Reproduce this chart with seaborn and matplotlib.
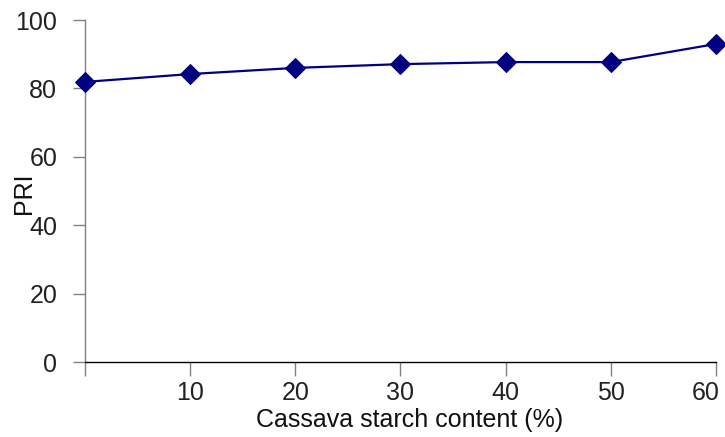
import matplotlib
matplotlib.use("Agg")
import matplotlib.pyplot as plt
import matplotlib.transforms as mtransforms
import seaborn as sns
import pandas as pd

# Cassava starch content (%) and the measured PRI at each level
starch_content = [0, 10, 20, 30, 40, 50, 60]
pri_values = [81.9, 84.2, 86.0, 87.1, 87.7, 87.7, 93.0]
x_tick_values = [0, 10, 20, 30, 40, 50, 60]
x_tick_labels = ["", "10", "20", "30", "40", "50", "60"]
y_tick_values = [0, 20, 40, 60, 80, 100]

sns.set_style("white")
plt.rcParams["font.family"] = ["Liberation Sans", "DejaVu Sans"]

df = pd.DataFrame({"starch": starch_content, "pri": pri_values})

fig = plt.figure(figsize=(7.25, 4.37), dpi=100)
ax = fig.add_axes([0.1172, 0.1716, 0.8704, 0.7826])

sns.lineplot(data=df, x="starch", y="pri", ax=ax, color="#000080",
             linewidth=1.6, marker="D", markersize=10,
             markeredgecolor="#000080", markerfacecolor="#000080",
             clip_on=False, zorder=3)

ax.set_xlim(0, 60)
ax.set_ylim(0, 100)
ax.set_xticks(x_tick_values)
ax.set_xticklabels(x_tick_labels)
ax.set_yticks(y_tick_values)

for side in ("top", "right"):
    ax.spines[side].set_visible(False)
ax.spines["left"].set_color("#808080")
ax.spines["left"].set_linewidth(1.0)
ax.spines["bottom"].set_color("#000000")
ax.spines["bottom"].set_linewidth(1.0)

ax.tick_params(axis="y", direction="out", length=9, width=1.0,
               color="#808080", pad=11, labelsize=18, labelcolor="#222222", left=True)
ax.tick_params(axis="x", direction="out", length=10, width=1.0,
               color="#808080", pad=4, labelsize=18, labelcolor="#222222", bottom=True)

# pull the last x label inward so it stays inside the figure
last = ax.get_xticklabels()[-1]
last.set_transform(last.get_transform()
                   + mtransforms.ScaledTranslation(-0.10, 0, fig.dpi_scale_trans))

ax.set_xlabel("Cassava starch content (%)", fontsize=18, color="#111111")
ax.xaxis.set_label_coords(0.514, -0.1345)
ax.set_ylabel("PRI", fontsize=18, color="#111111")
ax.yaxis.set_label_coords(-0.078, 0.494)

fig.savefig("out.png", dpi=100, facecolor="white")
